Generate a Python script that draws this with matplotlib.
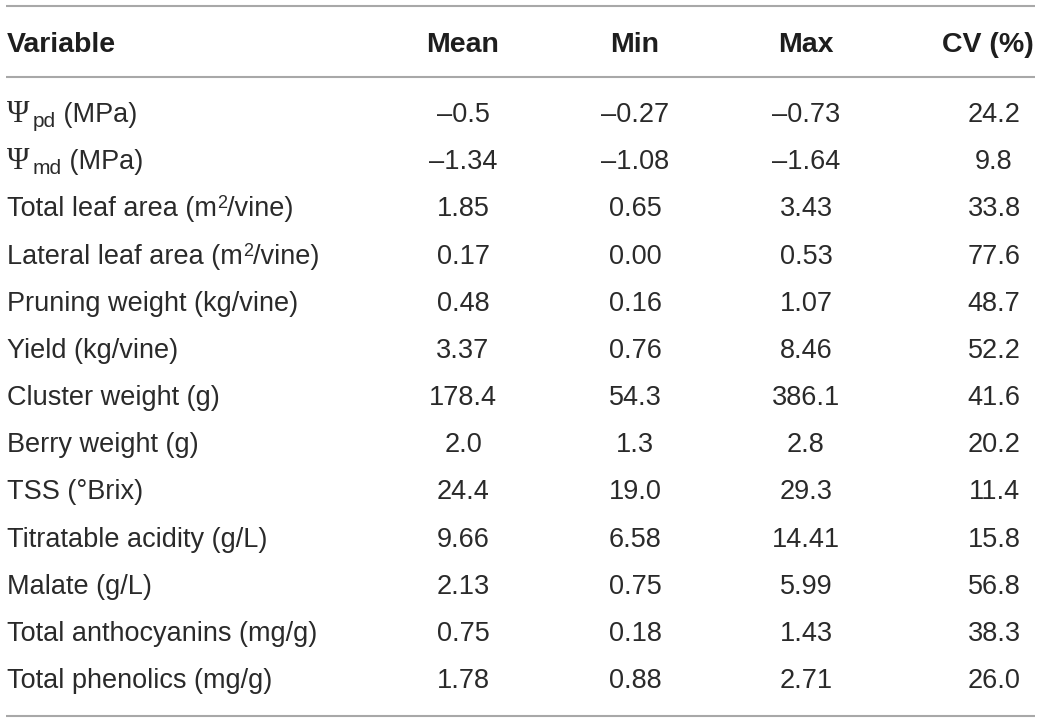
import re
import matplotlib
matplotlib.use("Agg")
import matplotlib.pyplot as plt

# ---------------- data ----------------
headers = ["Variable", "Mean", "Min", "Max", "CV (%)"]
variables = [
    "Ψ_{pd} (MPa)",
    "Ψ_{md} (MPa)",
    "Total leaf area (m^{2}/vine)",
    "Lateral leaf area (m^{2}/vine)",
    "Pruning weight (kg/vine)",
    "Yield (kg/vine)",
    "Cluster weight (g)",
    "Berry weight (g)",
    "TSS (°Brix)",
    "Titratable acidity (g/L)",
    "Malate (g/L)",
    "Total anthocyanins (mg/g)",
    "Total phenolics (mg/g)",
]
mean_vals = ["–0.5", "–1.34", "1.85", "0.17", "0.48", "3.37", "178.4", "2.0",
             "24.4", "9.66", "2.13", "0.75", "1.78"]
min_vals = ["–0.27", "–1.08", "0.65", "0.00", "0.16", "0.76", "54.3", "1.3",
            "19.0", "6.58", "0.75", "0.18", "0.88"]
max_vals = ["–0.73", "–1.64", "3.43", "0.53", "1.07", "8.46", "386.1", "2.8",
            "29.3", "14.41", "5.99", "1.43", "2.71"]
cv_vals = ["24.2", "9.8", "33.8", "77.6", "48.7", "52.2", "41.6", "20.2",
           "11.4", "15.8", "56.8", "38.3", "26.0"]

# ---------------- style / layout ----------------
TXT = "#2a2a2a"
HDR = "#1e1e1e"
LINE = "#a8a8a8"
SANS = "Liberation Sans"
SERIF = "Liberation Serif"
FS = 19.5
HFS = 20.5
SUB_FS = 15
SUP_FS = 13

W, H = 1040, 722
fig = plt.figure(figsize=(W / 100, H / 100), dpi=100)
ax = fig.add_axes([0, 0, 1, 1])
ax.set_xlim(0, W)
ax.set_ylim(H, 0)
ax.axis("off")
renderer = fig.canvas.get_renderer()

x_left = 7
col_centers = [463, 635, 806, 994]
header_right_cv = 1034
header_base = 52
row_base0 = 122
row_pitch = 47.17

# rules
for y in (5.5, 76.5, 716):
    ax.plot([6, 1035], [y, y], color=LINE, lw=1.5, solid_capstyle="butt")

# header
ax.text(x_left, header_base, headers[0], fontsize=HFS, family=SANS,
        weight="bold", color=HDR, ha="left", va="baseline")
for h, cx in zip(headers[1:4], col_centers[:3]):
    ax.text(cx, header_base, h, fontsize=HFS, family=SANS, weight="bold",
            color=HDR, ha="center", va="baseline")
ax.text(header_right_cv, header_base, headers[4], fontsize=HFS, family=SANS,
        weight="bold", color=HDR, ha="right", va="baseline")


def segments(label):
    parts = re.split(r"(_\{[^}]*\}|\^\{[^}]*\})", label)
    out = []
    for p in parts:
        if not p:
            continue
        if p.startswith("_{"):
            out.append((p[2:-1], SANS, SUB_FS, 5))
        elif p.startswith("^{"):
            out.append((p[2:-1], SANS, SUP_FS, -8))
        else:
            for q in re.split(r"(Ψ)", p):
                if not q:
                    continue
                if q == "Ψ":
                    out.append((q, SERIF, FS + 2.5, 0))
                else:
                    out.append((q, SANS, FS, 0))
    return out


def draw_label(x, base, label):
    cx = x
    for txt, fam, size, dy in segments(label):
        t = ax.text(cx, base + dy, txt, fontsize=size, family=fam,
                    color=TXT, ha="left", va="baseline")
        cx += t.get_window_extent(renderer).width + (3 if txt == "Ψ" else 0)


for i, lab in enumerate(variables):
    base = row_base0 + i * row_pitch
    draw_label(x_left, base, lab)
    for vals, cx in zip((mean_vals, min_vals, max_vals, cv_vals), col_centers):
        ax.text(cx, base, vals[i], fontsize=FS, family=SANS, color=TXT,
                ha="center", va="baseline")

fig.savefig("out.png", dpi=100, facecolor="white")
